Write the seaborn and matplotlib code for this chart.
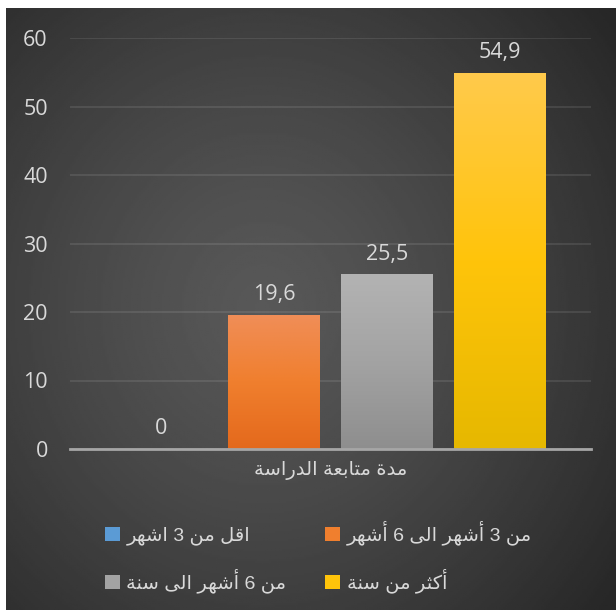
import numpy as np
import pandas as pd
import matplotlib
matplotlib.use("Agg")
import matplotlib.pyplot as plt
import seaborn as sns
from matplotlib.colors import LinearSegmentedColormap
from matplotlib.patches import Patch

# data
category = "مدة متابعة الدراسة"
series = ["اقل من 3 اشهر", "من 3 أشهر الى 6 أشهر", "من 6 أشهر الى سنة", "أكثر من سنة"]
values = [0, 19.6, 25.5, 54.9]
yticks = [0, 10, 20, 30, 40, 50, 60]

# colours: (top, middle, bottom) of each bar gradient
grad_top = ["#7fb0e0", "#f08e58", "#b3b3b3", "#ffca4c"]
grad_mid = ["#5b9bd5", "#f07f2e", "#a3a3a3", "#ffc40a"]
grad_bot = ["#4a88c6", "#e4691c", "#8e8e8e", "#e6b800"]

TXT = "#d9d9d9"
NUM_FONT = ["Open Sans", "DejaVu Sans"]
AR_FONT = ["Liberation Sans", "DejaVu Sans"]

# simple arabic shaping (presentation forms) + reversal for display
# (isolated, final, initial, medial)
FORMS = {
    "ا": ("\ufe8d", "\ufe8e", None, None),
    "أ": ("\ufe83", "\ufe84", None, None),
    "ب": ("\ufe8f", "\ufe90", "\ufe91", "\ufe92"),
    "ة": ("\ufe93", "\ufe94", None, None),
    "ت": ("\ufe95", "\ufe96", "\ufe97", "\ufe98"),
    "ث": ("\ufe99", "\ufe9a", "\ufe9b", "\ufe9c"),
    "د": ("\ufea9", "\ufeaa", None, None),
    "ر": ("\ufead", "\ufeae", None, None),
    "س": ("\ufeb1", "\ufeb2", "\ufeb3", "\ufeb4"),
    "ش": ("\ufeb5", "\ufeb6", "\ufeb7", "\ufeb8"),
    "ع": ("\ufec9", "\ufeca", "\ufecb", "\ufecc"),
    "ق": ("\ufed5", "\ufed6", "\ufed7", "\ufed8"),
    "ك": ("\ufed9", "\ufeda", "\ufedb", "\ufedc"),
    "ل": ("\ufedd", "\ufede", "\ufedf", "\ufee0"),
    "م": ("\ufee1", "\ufee2", "\ufee3", "\ufee4"),
    "ن": ("\ufee5", "\ufee6", "\ufee7", "\ufee8"),
    "ه": ("\ufee9", "\ufeea", "\ufeeb", "\ufeec"),
    "ى": ("\ufeef", "\ufef0", None, None),
}


def shape(text):
    out = []
    for i, ch in enumerate(text):
        if ch not in FORMS:
            out.append(ch)
            continue
        iso, fin, ini, med = FORMS[ch]
        prev = text[i - 1] if i > 0 else ""
        nxt = text[i + 1] if i + 1 < len(text) else ""
        joins_prev = prev in FORMS and FORMS[prev][2] is not None
        joins_next = ini is not None and nxt in FORMS
        if joins_prev and joins_next:
            out.append(med)
        elif joins_prev:
            out.append(fin)
        elif joins_next:
            out.append(ini)
        else:
            out.append(iso)
    return "".join(reversed(out))


df = pd.DataFrame({
    "category": [shape(category)] * len(series),
    "series": series,
    "value": values,
})

fig = plt.figure(figsize=(6.16, 6.10), dpi=100, facecolor="white")

# dark radial background panel
bg = fig.add_axes([6 / 616, 0, 610 / 616, 602 / 610], zorder=-10)
yy, xx = np.mgrid[0:1:300j, 0:1:300j]
r = np.sqrt(((xx - 0.42) / 1.0) ** 2 + ((yy - 0.5) / 1.1) ** 2)
shade = 0.345 - 0.19 * np.clip(r / 0.72, 0, 1) ** 1.3
bg.imshow(shade, cmap="gray", vmin=0, vmax=1, aspect="auto", extent=[0, 1, 0, 1])
bg.axis("off")

ax = fig.add_axes([70 / 616, 161 / 610, 521 / 616, 411 / 610])
ax.set_facecolor("none")

sns.barplot(
    data=df, x="category", y="value", hue="series", hue_order=series,
    palette=dict(zip(series, grad_mid)), width=0.867, gap=0.19,
    legend=False, ax=ax, zorder=3,
)

# vertical gradient on each bar
for cont, top, mid, bot in zip(ax.containers, grad_top, grad_mid, grad_bot):
    for patch in cont.patches:
        h = patch.get_height()
        if h <= 0:
            continue
        x0, w = patch.get_x(), patch.get_width()
        cmap = LinearSegmentedColormap.from_list("g", [bot, mid, top])
        im = ax.imshow(np.linspace(0, 1, 256).reshape(-1, 1), cmap=cmap,
                       extent=[x0, x0 + w, 0, h], origin="lower",
                       aspect="auto", zorder=3.5)
        im.set_clip_path(patch)

# value labels
for cont, v in zip(ax.containers, values):
    ax.bar_label(cont, labels=[f"{v:g}".replace(".", ",")], padding=7,
                 color=TXT, fontsize=15.5, family=NUM_FONT)

ax.set_xlim(-0.5, 0.5)
ax.set_ylim(0, 60)
ax.set_yticks(yticks)
ax.set_yticklabels([str(t) for t in yticks], color=TXT, fontsize=15.5, family=NUM_FONT)
ax.tick_params(axis="y", length=0, pad=16)
ax.tick_params(axis="x", length=0, pad=9)
for lab in ax.get_xticklabels():
    lab.set_color(TXT)
    lab.set_fontsize(14)
    lab.set_family(AR_FONT)
ax.set_xlabel("")
ax.set_ylabel("")

ax.yaxis.grid(True, color="white", alpha=0.1, lw=1.3)
ax.set_axisbelow(True)
for s in ["top", "left", "right"]:
    ax.spines[s].set_visible(False)
ax.spines["bottom"].set_color("#a6a6a6")
ax.spines["bottom"].set_linewidth(2)
ax.spines["bottom"].set_zorder(4)

# legend: left column blue, gray; right column orange, yellow
order = [0, 2, 1, 3]
handles = [Patch(facecolor=grad_mid[i], edgecolor="none") for i in order]
labels = [shape(series[i]) for i in order]
fig.legend(handles, labels, ncol=2, loc="center",
           bbox_to_anchor=(318.5 / 616, 1 - 557 / 610), frameon=False,
           prop={"family": AR_FONT, "size": 14}, labelcolor=TXT,
           handlelength=0.75, handleheight=0.75, handletextpad=0.35,
           columnspacing=2.0, labelspacing=1.2)

fig.savefig("out.png", dpi=100)
